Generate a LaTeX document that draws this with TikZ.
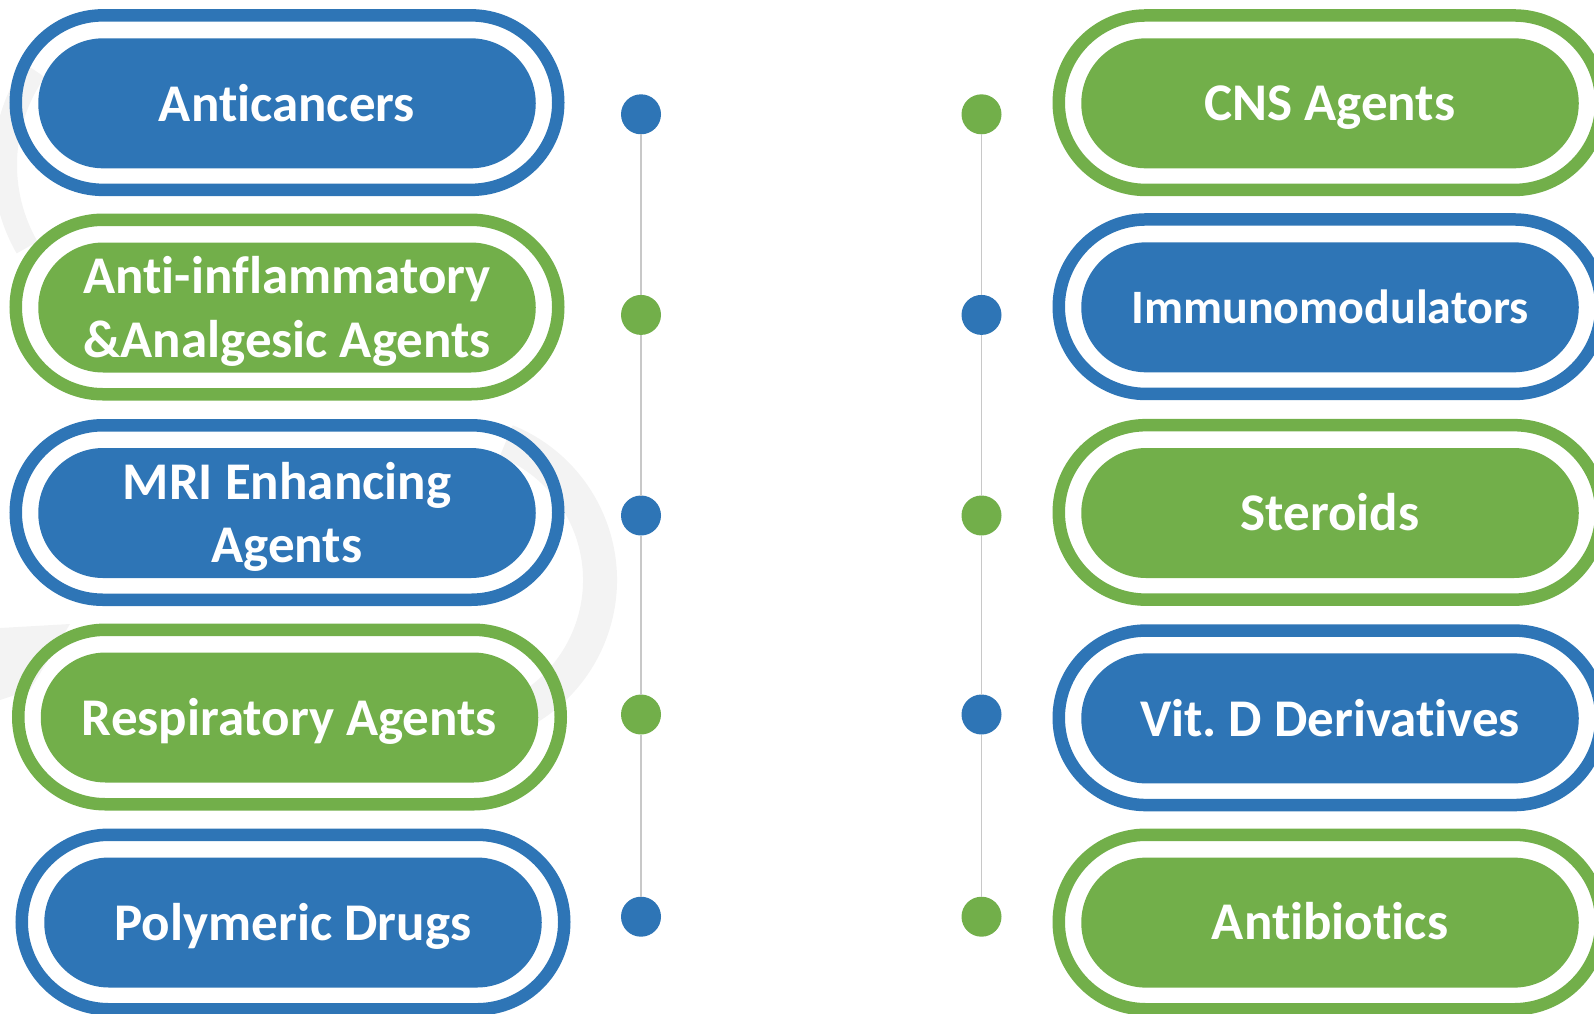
\documentclass[tikz,border=0pt]{standalone}
\usepackage{fontspec}
\setmainfont{Carlito}[Ligatures={NoCommon,NoRequired,NoContextual}]
\usetikzlibrary{shapes.misc}
\definecolor{cblue}{HTML}{2E75B6}
\definecolor{cgreen}{HTML}{72AF4A}
\definecolor{cline}{HTML}{C8C8C8}
\definecolor{wmark}{HTML}{F3F3F3}
\frenchspacing
\newcommand\twoline[2]{\vtop{\halign{\hfil##\hfil\cr#1\cr#2\cr}}}
\tikzset{
  ring/.style={draw=#1, line width=12.5pt, rounded rectangle, minimum width=542.5pt, minimum height=174.5pt, inner sep=0pt, outer sep=0pt},
  core/.style={fill=#1, rounded rectangle, minimum width=497.5pt, minimum height=130pt, inner sep=0pt, outer sep=0pt},
  label/.style={text=white, font=\fontsize{53}{63.5}\selectfont\bfseries, anchor=base, inner sep=0pt},
  smalllabel/.style={label, font=\fontsize{48}{58}\selectfont\bfseries},
  dot/.style={circle, fill=#1, minimum size=40pt, inner sep=0pt, outer sep=0pt},
  link/.style={draw=cline, line width=1.3pt},
  faint/.style={draw=wmark, line width=#1}
}
\begin{document}
\begin{tikzpicture}[x=1pt,y=-1pt]
\useasboundingbox (0,0) rectangle (1594,1013);
% faint watermark
\draw[faint=34pt] (450,580) ++(-68:150) arc[start angle=-68, end angle=68, radius=150];
\draw[faint=24pt] (170,165) ++(150:165) arc[start angle=150, end angle=215, radius=165];
\fill[wmark] (0,628) -- (70,624) -- (30,690) -- (0,700) -- cycle;
% left column
\node[ring=cblue] (r1) at (287,102.6) {};
\node[core=cblue] (c1) at (287,103.3) {};
\node[label] (t1) at (287,121) {Anticancers};
\node[ring=cgreen] (r2) at (287,307) {};
\node[core=cgreen] (c2) at (287,307.5) {};
\node[label] (t2) at (287,293.5) {\twoline{Anti-inflammatory}{\&Analgesic Agents}};
\node[ring=cblue] (r3) at (287,512.5) {};
\node[core=cblue] (c3) at (287,513) {};
\node[label] (t3) at (287,499) {\twoline{MRI Enhancing}{Agents}};
\node[ring=cgreen] (r4) at (289.5,717) {};
\node[core=cgreen] (c4) at (289.5,717.5) {};
\node[label] (t4) at (289.5,735) {Respiratory Agents};
\node[ring=cblue] (r5) at (293,922) {};
\node[core=cblue] (c5) at (293,922.5) {};
\node[label] (t5) at (293,940) {Polymeric Drugs};
% right column
\node[ring=cgreen] (s1) at (1330,102.7) {};
\node[core=cgreen] (e1) at (1330,103.3) {};
\node[label] (u1) at (1330,120.5) {CNS Agents};
\node[ring=cblue] (s2) at (1330,306.7) {};
\node[core=cblue] (e2) at (1330,307.3) {};
\node[smalllabel] (u2) at (1330,323.5) {Immunomodulators};
\node[ring=cgreen] (s3) at (1330,512.4) {};
\node[core=cgreen] (e3) at (1330,513) {};
\node[label] (u3) at (1330,530) {Steroids};
\node[ring=cblue] (s4) at (1330,717.8) {};
\node[core=cblue] (e4) at (1330,718.4) {};
\node[label] (u4) at (1330,736.5) {Vit. D Derivatives};
\node[ring=cgreen] (s5) at (1330,922) {};
\node[core=cgreen] (e5) at (1330,922.6) {};
\node[label] (u5) at (1330,939.5) {Antibiotics};
% timeline dots
\node[dot=cblue] (dl1) at (641,114.3) {};
\node[dot=cgreen] (dl2) at (641,314.9) {};
\node[dot=cblue] (dl3) at (641,515.5) {};
\node[dot=cgreen] (dl4) at (641,714.5) {};
\node[dot=cblue] (dl5) at (641,916.7) {};
\node[dot=cgreen] (dr1) at (981.5,114.3) {};
\node[dot=cblue] (dr2) at (981.5,314.9) {};
\node[dot=cgreen] (dr3) at (981.5,515.5) {};
\node[dot=cblue] (dr4) at (981.5,714.5) {};
\node[dot=cgreen] (dr5) at (981.5,916.7) {};
\draw[link] (dl1) -- (dl2) (dl2) -- (dl3) (dl3) -- (dl4) (dl4) -- (dl5);
\draw[link] (dr1) -- (dr2) (dr2) -- (dr3) (dr3) -- (dr4) (dr4) -- (dr5);
\end{tikzpicture}
\end{document}
